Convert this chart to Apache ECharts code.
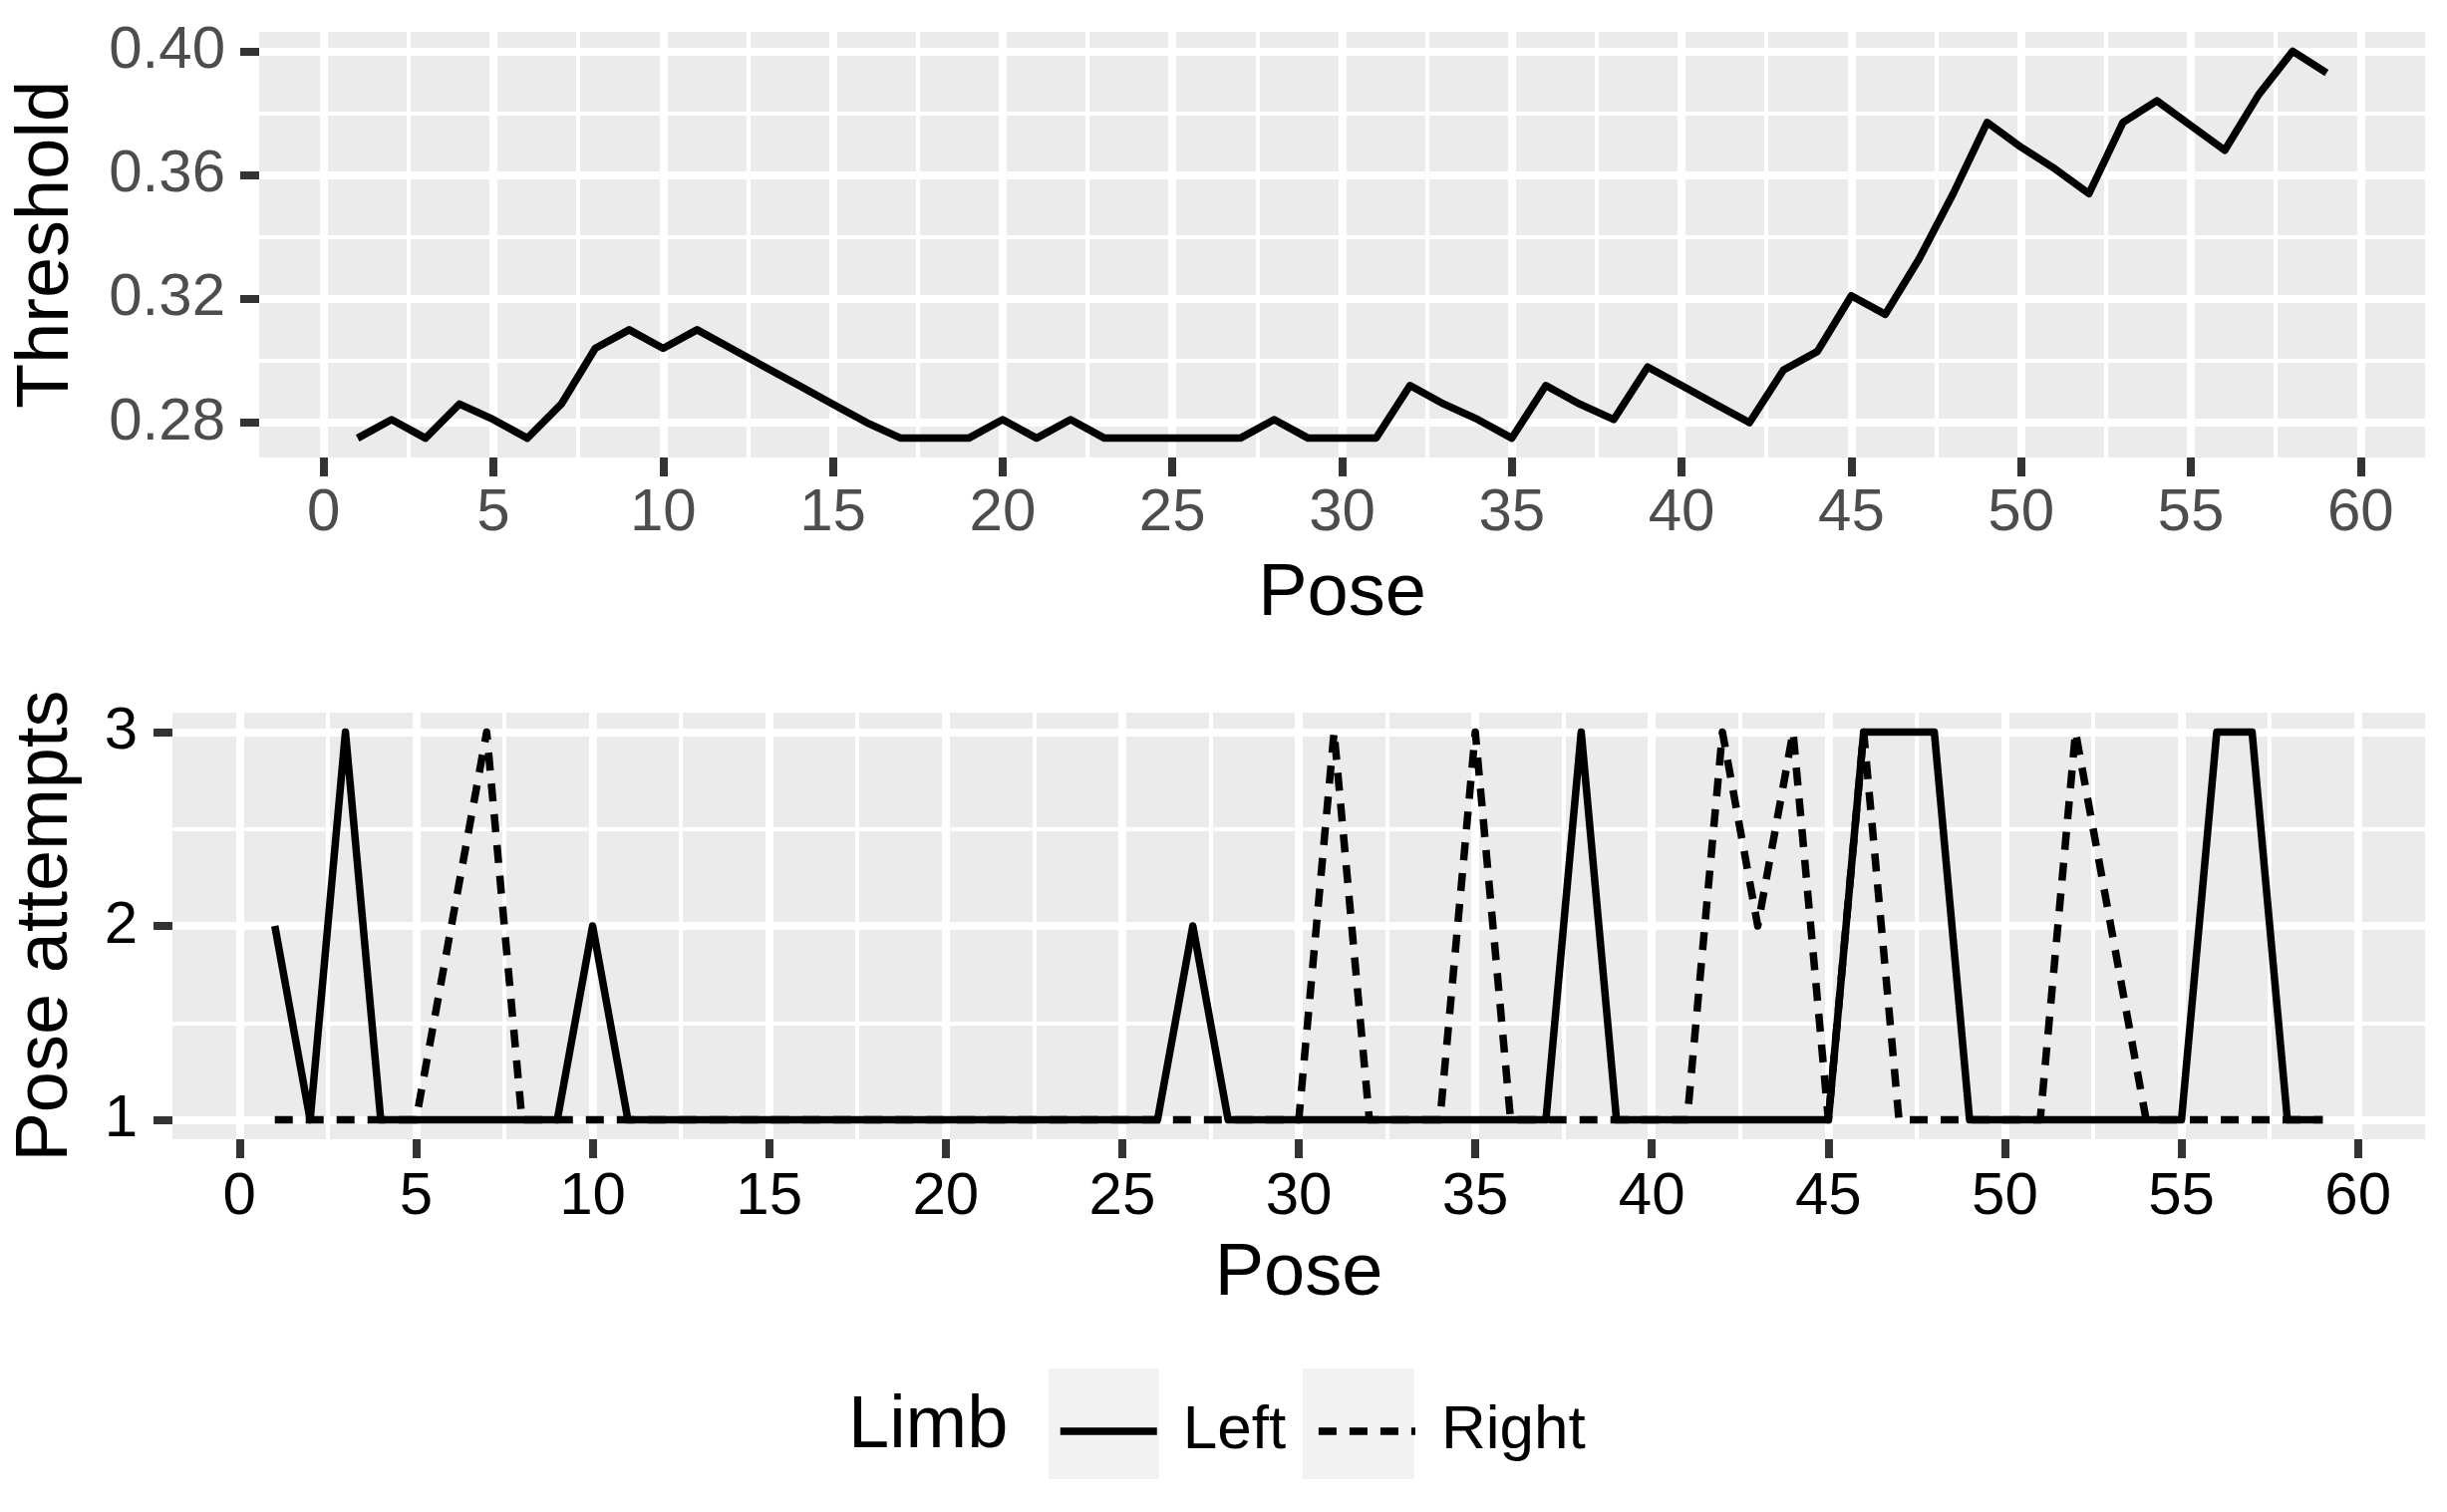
<!DOCTYPE html>
<html>
<head>
<meta charset="utf-8">
<title>Threshold and pose attempts</title>
<script src="https://cdn.jsdelivr.net/npm/echarts@6/dist/echarts.min.js"></script>
<style>
  html, body { margin: 0; padding: 0; background: #fff; }
  #chart { width: 2455px; height: 1517px; }
</style>
</head>
<body>
<div id="chart"></div>
<script>
// pose index 1..59
const poses = [
  1, 2, 3, 4, 5, 6, 7, 8, 9, 10, 11, 12, 13, 14, 15, 16, 17, 18, 19, 20,
  21, 22, 23, 24, 25, 26, 27, 28, 29, 30, 31, 32, 33, 34, 35, 36, 37, 38, 39, 40,
  41, 42, 43, 44, 45, 46, 47, 48, 49, 50, 51, 52, 53, 54, 55, 56, 57, 58, 59
]

const threshold = [
  0.275, 0.281, 0.275, 0.286, 0.281, 0.275, 0.286, 0.304, 0.310, 0.304,
  0.310, 0.304, 0.298, 0.292, 0.286, 0.280, 0.275, 0.275, 0.275, 0.281,
  0.275, 0.281, 0.275, 0.275, 0.275, 0.275, 0.275, 0.281, 0.275, 0.275,
  0.275, 0.292, 0.286, 0.281, 0.275, 0.292, 0.286, 0.281, 0.298, 0.292,
  0.286, 0.280, 0.297, 0.303, 0.321, 0.315, 0.333, 0.354, 0.377, 0.369,
  0.362, 0.354, 0.377, 0.384, 0.376, 0.368, 0.386, 0.400, 0.393
]

const leftAttempts = [
  2, 1, 3, 1, 1, 1, 1, 1, 1, 2,
  1, 1, 1, 1, 1, 1, 1, 1, 1, 1,
  1, 1, 1, 1, 1, 1, 2, 1, 1, 1,
  1, 1, 1, 1, 1, 1, 1, 3, 1, 1,
  1, 1, 1, 1, 1, 3, 3, 3, 1, 1,
  1, 1, 1, 1, 1, 3, 3, 1, 1
]

const rightAttempts = [
  1, 1, 1, 1, 1, 2, 3, 1, 1, 1,
  1, 1, 1, 1, 1, 1, 1, 1, 1, 1,
  1, 1, 1, 1, 1, 1, 1, 1, 1, 1,
  3, 1, 1, 1, 3, 1, 1, 1, 1, 1,
  1, 3, 2, 3, 1, 3, 1, 1, 1, 1,
  1, 3, 2, 1, 1, 1, 1, 1, 1
]

const poseTicks = [0, 5, 10, 15, 20, 25, 30, 35, 40, 45, 50, 55, 60]
const poseMinor = [2.5, 7.5, 12.5, 17.5, 22.5, 27.5, 32.5, 37.5, 42.5, 47.5, 52.5, 57.5]
const thresholdTicks = [0.28, 0.32, 0.36, 0.40]
const thresholdMinor = [0.30, 0.34, 0.38]
const attemptTicks = [1, 2, 3]
const attemptMinor = [1.5, 2.5]

const FONT = '"Liberation Sans", Arial, sans-serif'
const panelBg = '#EBEBEB'
const LINE_W = 7.5

function pairs(xs, ys) {
  return xs.map((x, i) => [x, ys[i]])
}

function majorAxis(gridIndex, position, ticks, opts) {
  return {
    type: 'value',
    gridIndex,
    position,
    min: opts.min,
    max: opts.max,
    axisLine: { show: false, onZero: false },
    axisTick: {
      show: true,
      customValues: ticks,
      length: 19,
      lineStyle: { color: '#333333', width: 8 },
    },
    axisLabel: {
      customValues: ticks,
      color: opts.labelColor,
      fontSize: 60,
      fontFamily: FONT,
      margin: opts.margin,
      formatter: opts.formatter,
    },
    splitLine: { show: true, lineStyle: { color: '#ffffff', width: 8 } },
    name: opts.name,
    nameLocation: 'middle',
    nameGap: opts.nameGap,
    nameTextStyle: { color: '#000', fontSize: 74, fontFamily: FONT },
  }
}

function minorAxis(gridIndex, position, ticks, min, max) {
  return {
    type: 'value',
    gridIndex,
    position,
    min,
    max,
    axisLine: { show: false, onZero: false },
    axisTick: { show: false, customValues: ticks },
    axisLabel: { show: false, customValues: ticks },
    splitLine: { show: true, lineStyle: { color: '#ffffff', width: 4 } },
  }
}

const chart = echarts.init(document.getElementById('chart'), null, { renderer: 'canvas' })

chart.setOption({
  animation: false,
  backgroundColor: '#ffffff',
  textStyle: { fontFamily: FONT },
  grid: [
    { left: 260, right: 22, top: 32, height: 427, show: true, backgroundColor: panelBg, borderWidth: 0 },
    { left: 173, right: 22, top: 715, height: 428, show: true, backgroundColor: panelBg, borderWidth: 0 },
  ],
  xAxis: [
    minorAxis(0, 'bottom', poseMinor, -1.9, 61.9),
    majorAxis(0, 'bottom', poseTicks, { min: -1.9, max: 61.9, labelColor: '#4D4D4D', margin: 26, name: 'Pose', nameGap: 101 }),
    minorAxis(1, 'bottom', poseMinor, -1.9, 61.9),
    majorAxis(1, 'bottom', poseTicks, { min: -1.9, max: 61.9, labelColor: '#000000', margin: 28, name: 'Pose', nameGap: 99 }),
  ],
  yAxis: [
    minorAxis(0, 'left', thresholdMinor, 0.26875, 0.40625),
    majorAxis(0, 'left', thresholdTicks, {
      min: 0.26875, max: 0.40625, labelColor: '#4D4D4D', margin: 34,
      name: 'Threshold', nameGap: 175, formatter: (v) => v.toFixed(2),
    }),
    minorAxis(1, 'left', attemptMinor, 0.9, 3.1),
    majorAxis(1, 'left', attemptTicks, { min: 0.9, max: 3.1, labelColor: '#000000', margin: 35, name: 'Pose attempts', nameGap: 89 }),
  ],
  legend: {
    data: ['Left', 'Right'],
    left: 1060,
    top: 1401,
    padding: 0,
    itemWidth: 97,
    itemHeight: 20,
    itemGap: 29,
    selectedMode: false,
    itemStyle: { color: 'rgba(0,0,0,0)', borderWidth: 0, opacity: 0 },
    lineStyle: { width: LINE_W },
    textStyle: { color: '#000', fontSize: 62, fontFamily: FONT, lineHeight: 70, padding: [0, 0, 0, 21] },
  },
  graphic: [
    { type: 'rect', shape: { x: 1052, y: 1373, width: 111, height: 111 }, style: { fill: '#F2F2F2' }, z: -1 },
    { type: 'rect', shape: { x: 1307, y: 1373, width: 112, height: 111 }, style: { fill: '#F2F2F2' }, z: -1 },
    {
      type: 'text', x: 851, y: 1432,
      style: { text: 'Limb', fill: '#000', font: '74px ' + FONT, verticalAlign: 'middle' },
    },
  ],
  series: [
    {
      name: 'Threshold',
      type: 'line',
      xAxisIndex: 1,
      yAxisIndex: 1,
      data: pairs(poses, threshold),
      symbol: 'none',
      silent: true,
      lineStyle: { color: '#000', width: LINE_W, join: 'round' },
    },
    {
      name: 'Left',
      type: 'line',
      xAxisIndex: 3,
      yAxisIndex: 3,
      data: pairs(poses, leftAttempts),
      symbol: 'none',
      silent: true,
      itemStyle: { color: '#000' },
      lineStyle: { color: '#000', width: LINE_W, join: 'round' },
    },
    {
      name: 'Right',
      type: 'line',
      xAxisIndex: 3,
      yAxisIndex: 3,
      data: pairs(poses, rightAttempts),
      symbol: 'none',
      silent: true,
      itemStyle: { color: '#000' },
      lineStyle: { color: '#000', width: LINE_W, type: [18, 13], join: 'round' },
    },
  ],
})
</script>
</body>
</html>
